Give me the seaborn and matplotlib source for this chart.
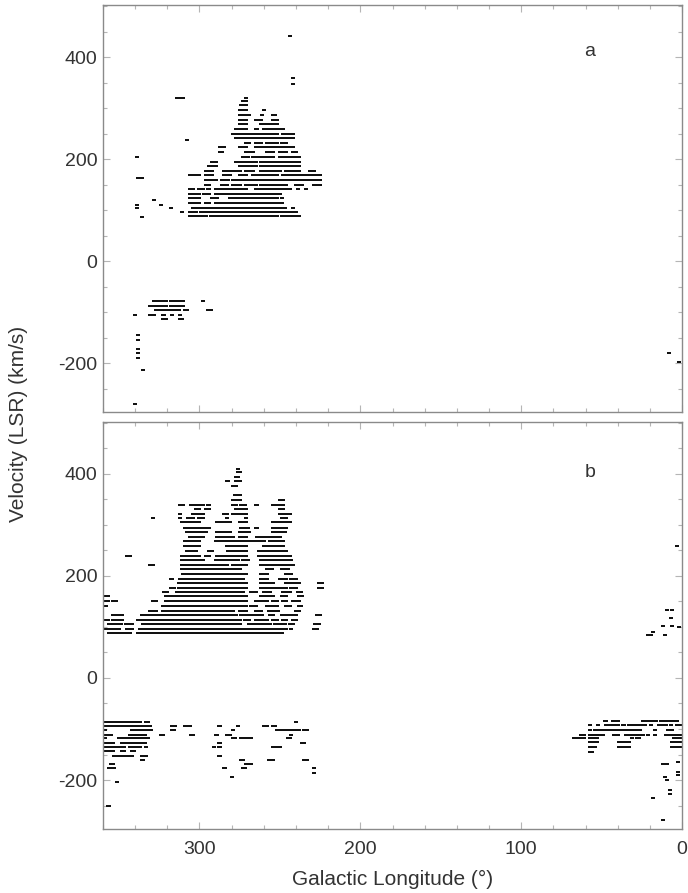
import numpy as np
import pandas as pd
import matplotlib
matplotlib.use("Agg")
import matplotlib.pyplot as plt
import seaborn as sns
from matplotlib.ticker import FixedLocator, MultipleLocator
from matplotlib.path import Path

# ---------------- data ----------------
# each row: (velocity km/s, [(longitude_start, longitude_end), ...]) runs of detections
ROWS_A = [
    (88, [(306, 296), (293, 290), (287, 252), (249, 249), (246, 238)]),
    (96, [(306, 302), (299, 294), (293, 240)]),
    (104, [(304, 302), (300, 254), (252, 249), (247, 247), (242, 242)]),
    (113, [(306, 300), (296, 294), (290, 254), (253, 249)]),
    (123, [(306, 300), (292, 289), (281, 252), (249, 249)]),
    (132, [(306, 300), (297, 294), (290, 289), (287, 250)]),
    (141, [(306, 304), (300, 298), (295, 294), (290, 287), (285, 283), (281, 279),
           (277, 275), (273, 271), (265, 244), (239, 239), (234, 234)]),
    (150, [(296, 294), (286, 283), (279, 275), (271, 265), (262, 246), (240, 236), (229, 225)]),
    (159, [(296, 290), (286, 282), (279, 271), (269, 260), (258, 252), (250, 229), (227, 225)]),
    (168, [(306, 300), (296, 292), (285, 281), (275, 271), (267, 252), (248, 238), (237, 225)]),
    (177, [(296, 292), (285, 281), (279, 275), (271, 267), (262, 256), (254, 250), (246, 238), (231, 229)]),
    (187, [(294, 290), (275, 265), (262, 260), (258, 238)]),
    (195, [(292, 290), (277, 275), (273, 271), (269, 265), (262, 260), (258, 238)]),
    (204, [(273, 270), (267, 262), (260, 254), (250, 242), (240, 238)]),
    (214, [(287, 286), (271, 267), (258, 254), (250, 246), (242, 240)]),
    (223, [(287, 285), (275, 271), (265, 254), (252, 242)]),
    (231, [(271, 269), (265, 262), (258, 256), (254, 252), (249, 246)]),
    (241, [(277, 242)]),
    (250, [(279, 275), (273, 267), (265, 260), (258, 252), (248, 242)]),
    (259, [(277, 271), (265, 264), (260, 252), (250, 248)]),
    (269, [(275, 271), (262, 260), (258, 252)]),
    (277, [(275, 271), (265, 262), (254, 252)]),
    (287, [(275, 269), (261, 261), (254, 253)]),
    (296, [(275, 271), (260, 260)]),
    (305, [(274, 271)]),
    (313, [(273, 271)]),
    (320, [(314, 310), (271, 271)]),
    (-78, [(328, 326), (325, 321), (318, 314), (313, 310), (298, 298)]),
    (-88, [(331, 321), (318, 314), (312, 310)]),
    (-96, [(327, 323), (321, 316), (314, 313), (309, 308), (295, 293)]),
    (-106, [(340, 340), (331, 328), (323, 322), (317, 317), (312, 312)]),
    (-114, [(323, 321), (312, 311)]),
]
POINTS_A_LON = [244, 242, 242, 339, 338, 336, 339, 339, 336, 328, 324, 318, 311, 308,
                338.5, 338.5, 338.5, 338.5, 338.5, 335, 340, 8, 2]
POINTS_A_VEL = [441, 358, 347, 204, 162, 162, 110, 104, 87, 120, 110, 104, 96, 238,
                -145, -155, -172, -181, -190, -214, -280, -180, -198]

ROWS_B = [
    (88, [(356, 352), (350, 347), (346, 343), (338, 281), (279, 249)]),
    (97, [(358, 356), (355, 353), (351, 350), (345, 342), (337, 279), (277, 246), (243, 243), (229, 227)]),
    (105, [(356, 353), (351, 349), (346, 342), (335, 275), (269, 267), (265, 256), (253, 251),
           (249, 247), (244, 242), (228, 226)]),
    (114, [(359, 357), (354, 352), (350, 348), (338, 275), (272, 269), (265, 258), (254, 252),
           (248, 246), (242, 240)]),
    (123, [(354, 352), (350, 348), (336, 277), (274, 272), (269, 267), (264, 261), (256, 254),
           (249, 244), (242, 240), (227, 225)]),
    (132, [(331, 327), (323, 279), (275, 271), (265, 262), (257, 251), (240, 238)]),
    (142, [(360, 358), (323, 271), (268, 265), (258, 252), (246, 244), (238, 237)]),
    (150, [(359, 357), (354, 352), (329, 327), (321, 271), (265, 258), (254, 252), (248, 246), (242, 238)]),
    (160, [(358, 357), (321, 271), (262, 254), (249, 246), (238, 236)]),
    (168, [(322, 320), (314, 273), (268, 265), (260, 256), (248, 244), (239, 237)]),
    (177, [(318, 316), (313, 271), (262, 254), (252, 246), (243, 240), (226, 224)]),
    (187, [(313, 271), (262, 254), (246, 244), (242, 238), (226, 224)]),
    (195, [(318, 317), (312, 273), (262, 258), (250, 246), (243, 240)]),
    (204, [(310, 275), (273, 271), (262, 258), (246, 243)]),
    (213, [(311, 304), (302, 283), (281, 275), (258, 255), (249, 245)]),
    (222, [(331, 329), (311, 296), (294, 283), (279, 271), (262, 246), (244, 242)]),
    (231, [(311, 298), (290, 285), (283, 279), (277, 276), (273, 270), (262, 243)]),
    (240, [(345, 343), (311, 300), (296, 294), (289, 283), (281, 271), (263, 244)]),
    (249, [(308, 302), (294, 292), (282, 271), (263, 246)]),
    (259, [(309, 300), (283, 271), (260, 248)]),
    (268, [(309, 300), (290, 267), (264, 260), (256, 248)]),
    (277, [(306, 298), (289, 279), (275, 271), (264, 250)]),
    (286, [(308, 296), (289, 281), (275, 269), (254, 247)]),
    (295, [(309, 294), (274, 270), (265, 264), (254, 246)]),
    (305, [(311, 304), (302, 300), (289, 287), (285, 281), (275, 271), (254, 244)]),
    (313, [(329, 329), (312, 312), (307, 304), (300, 298), (283, 283), (271, 271), (249, 246)]),
    (322, [(312, 312), (304, 302), (300, 298), (285, 283), (279, 271), (250, 244)]),
    (332, [(302, 300), (296, 294), (277, 271), (250, 248)]),
    (340, [(312, 310), (305, 303), (300, 298), (295, 294), (279, 277), (274, 272), (265, 264),
           (254, 252), (251, 248)]),
    (349, [(279, 275), (250, 248)]),
    (358, [(278, 275)]),
    (377, [(279, 277)]),
    (386, [(283, 282), (277, 275)]),
    (394, [(277, 276)]),
    (403, [(276, 275)]),
    (410, [(276, 276)]),
    (-86, [(360, 356), (354, 352), (350, 346), (344, 337), (333, 332), (240, 240)]),
    (-94, [(360, 354), (353, 352), (350, 346), (343, 331), (317, 315), (309, 306), (288, 287),
           (276, 276), (260, 258), (254, 253)]),
    (-102, [(360, 359), (342, 330), (317, 316), (279, 279), (252, 238), (235, 233)]),
    (-111, [(360, 355), (343, 334), (324, 323), (305, 304), (290, 289), (283, 281), (243, 243)]),
    (-118, [(360, 359), (350, 346), (344, 343), (342, 332), (279, 278), (274, 273), (271, 268), (245, 244)]),
    (-127, [(360, 354), (348, 346), (343, 334), (288, 287), (236, 235)]),
    (-135, [(359, 357), (355, 353), (352, 350), (348, 347), (343, 341), (339, 337), (333, 333),
            (291, 291), (288, 287), (254, 250)]),
    (-143, [(359, 357), (355, 354), (348, 347), (342, 341)]),
    (-153, [(353, 351), (350, 347), (346, 342), (336, 333), (288, 287)]),
    (-161, [(336, 335), (274, 273), (257, 254), (235, 233)]),
    (-169, [(355, 354), (271, 268)]),
    (-177, [(356, 353), (285, 284), (273, 272), (229, 229)]),
    (-84, [(48, 47), (43, 40), (24, 22), (20, 19), (17, 16), (13, 12), (10, 5), (3, 3)]),
    (-92, [(57, 57), (52, 52), (47, 40), (37, 36), (33, 30), (28, 23), (19, 19), (14, 10), (7, 7), (3, 1)]),
    (-102, [(57, 57), (54, 41), (39, 26), (17, 17), (9, 6)]),
    (-111, [(63, 61), (57, 49), (42, 40), (35, 33), (31, 30), (28, 26), (24, 24), (21, 21),
            (17, 17), (10, 9), (6, 1)]),
    (-118, [(67, 65), (63, 61), (57, 53), (31, 31), (28, 27), (5, 1)]),
    (-126, [(57, 53), (39, 37), (34, 33), (6, 1)]),
    (-135, [(57, 54), (39, 37), (34, 33), (6, 1)]),
    (-145, [(57, 56)]),
]
POINTS_B_LON = [3, 21, 19, 18, 11.6, 10.5, 9.5, 6.4, 7, 6, 1.8,
                12, 9.6, 2.3, 2.3, 2.3, 10.6, 9.6, 7.5, 7.5, 17.8, 11.6,
                229, 280, 351, 357, 356]
POINTS_B_VEL = [258, 85, 85, 91, 101, 85, 134, 134, 117, 101, 99,
                -168, -168, -165, -185, -190, -194, -200, -220, -227, -236, -279,
                -186, -194, -204, -251, -251]

LON_STEP = 2.0  # survey grid spacing in longitude


def to_frame(rows, plon, pvel):
    lons, vels = list(plon), list(pvel)
    for v, segs in rows:
        for hi, lo in segs:
            xs = list(np.arange(hi, lo - 1e-6, -LON_STEP))
            if xs[-1] - lo > 0.9:
                xs.append(lo)
            lons += xs
            vels += [v] * len(xs)
    return pd.DataFrame({"lon": lons, "vel": vels})


df_a = to_frame(ROWS_A, POINTS_A_LON, POINTS_A_VEL)
df_b = to_frame(ROWS_B, POINTS_B_LON, POINTS_B_VEL)

# ---------------- plotting ----------------
sns.set_style("ticks")
plt.rcParams["font.family"] = ["Liberation Sans", "DejaVu Sans"]
plt.rcParams["axes.unicode_minus"] = False

# short horizontal dash marker
dash = Path([(-1, -0.75), (1, -0.75), (1, 0.75), (-1, 0.75), (-1, -0.75)],
            [Path.MOVETO, Path.LINETO, Path.LINETO, Path.LINETO, Path.CLOSEPOLY])

fig = plt.figure(figsize=(6.88, 8.93), dpi=100)
ax_a = fig.add_axes([0.1497, 0.5386, 0.8416, 0.4558])
ax_b = fig.add_axes([0.1497, 0.0717, 0.8416, 0.4558])

text_col = "#333333"
for ax, df, lab in [(ax_a, df_a, "a"), (ax_b, df_b, "b")]:
    sns.scatterplot(data=df, x="lon", y="vel", ax=ax, marker=dash, s=5.2,
                    color="#121212", linewidth=0, legend=False)
    ax.set_xlim(360, 0)
    ax.set_ylim(-296, 502)
    ax.xaxis.set_major_locator(FixedLocator([300, 200, 100, 0]))
    ax.xaxis.set_minor_locator(MultipleLocator(20))
    ax.yaxis.set_major_locator(FixedLocator([-200, 0, 200, 400]))
    ax.yaxis.set_minor_locator(MultipleLocator(50))
    ax.tick_params(which="both", direction="in", top=True, right=True,
                   color="#b5b5b5", labelcolor=text_col, labelsize=14, width=0.8)
    ax.tick_params(which="major", length=5)
    ax.tick_params(which="minor", length=3)
    ax.tick_params(axis="y", pad=4)
    ax.tick_params(axis="x", pad=9)
    for sp in ax.spines.values():
        sp.set_color("#8a8a8a")
        sp.set_linewidth(1.0)
    ax.set_xlabel("")
    ax.set_ylabel("")
    ax.text(0.841, 0.885 if lab == "a" else 0.875, lab, transform=ax.transAxes,
            ha="center", va="center", fontsize=14, color=text_col)

ax_a.tick_params(labelbottom=False)
ax_b.set_xlabel("Galactic Longitude (°)", fontsize=15, color=text_col, labelpad=8)
fig.text(0.027, 0.525, "Velocity (LSR) (km/s)", rotation=90, ha="center", va="center",
         fontsize=15, color=text_col)

fig.savefig("out.png", dpi=100)
